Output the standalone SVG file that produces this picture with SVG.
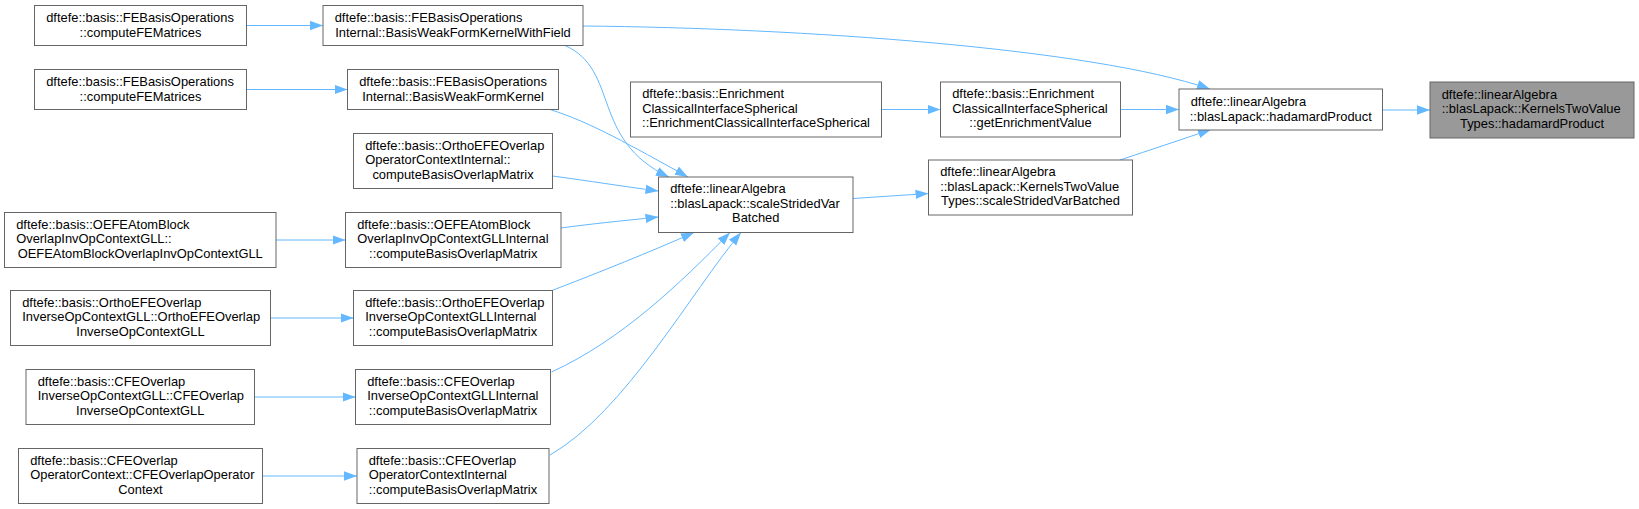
<svg xmlns="http://www.w3.org/2000/svg" width="1639" height="509" viewBox="0 0 1639 509">
<style>
.n rect{fill:#ffffff;stroke:#666666;stroke-width:1}
#nF rect{fill:#999999}
.n text{font-family:"Liberation Sans",Arial,Helvetica,sans-serif;font-size:12.9px;fill:#000000}
.n text.c{text-anchor:middle}
.e path{fill:none;stroke:#63b8ff;stroke-width:1;marker-end:url(#ah)}
</style>
<defs>
<marker id="ah" markerUnits="userSpaceOnUse" markerWidth="14" markerHeight="11" refX="13" refY="5" orient="auto">
<path d="M0,0.3 L13,5 L0,9.7 z" fill="#63b8ff"/>
</marker>
</defs>
<rect width="1639" height="509" fill="#ffffff"/>
<g id="edges" class="e">
<path d="M246.5,25.5 L323,25.5"/>
<path d="M246.5,89.5 L347.5,89.5"/>
<path d="M276,240 L345.5,240"/>
<path d="M270.5,318 L353.5,318"/>
<path d="M254.5,397 L355.5,397"/>
<path d="M262.5,476 L357,476"/>
<path d="M583,26 C800,28 1090,48 1210,89"/>
<path d="M565,45.5 C620,70 590,140 669,177"/>
<path d="M550,109.5 C590,122 630,145 688,177"/>
<path d="M552.5,176 C590,181 620,186 658.5,191"/>
<path d="M561,228 C590,224 620,221 658.5,217"/>
<path d="M552,290.5 C600,272 650,252 694,232.5"/>
<path d="M551.5,372 C621.5,340 680,283.5 730,232.5"/>
<path d="M550,455 C625,412 691,292 741,232.5"/>
<path d="M881.5,109.5 L940.5,109.5"/>
<path d="M1120.5,109.5 L1179,109.5"/>
<path d="M853,198.5 L928.5,193.5"/>
<path d="M1120,160 C1150,150 1180,140 1211,129.5"/>
<path d="M1382.5,110 L1430,110"/>
</g>
<g id="nA1" class="n"><rect x="34.5" y="5.5" width="212" height="40"/><text x="46.2" y="21.9">dftefe::basis::FEBasisOperations</text><text class="c" x="140.5" y="36.5">::computeFEMatrices</text></g>
<g id="nA2" class="n"><rect x="34.5" y="69.5" width="212" height="40"/><text x="46.2" y="85.9">dftefe::basis::FEBasisOperations</text><text class="c" x="140.5" y="100.5">::computeFEMatrices</text></g>
<g id="nA3" class="n"><rect x="4.5" y="212.5" width="271.5" height="55"/><text x="16.2" y="228.5">dftefe::basis::OEFEAtomBlock</text><text x="16.2" y="243.1">OverlapInvOpContextGLL::</text><text class="c" x="140.25" y="257.7">OEFEAtomBlockOverlapInvOpContextGLL</text></g>
<g id="nA4" class="n"><rect x="10.5" y="290.5" width="260" height="55"/><text x="22.2" y="306.5">dftefe::basis::OrthoEFEOverlap</text><text x="22.2" y="321.1">InverseOpContextGLL::OrthoEFEOverlap</text><text class="c" x="140.5" y="335.7">InverseOpContextGLL</text></g>
<g id="nA5" class="n"><rect x="26" y="369.5" width="228.5" height="55"/><text x="37.7" y="385.5">dftefe::basis::CFEOverlap</text><text x="37.7" y="400.1">InverseOpContextGLL::CFEOverlap</text><text class="c" x="140.25" y="414.7">InverseOpContextGLL</text></g>
<g id="nA6" class="n"><rect x="18.5" y="448.5" width="244" height="55"/><text x="30.2" y="464.5">dftefe::basis::CFEOverlap</text><text x="30.2" y="479.1">OperatorContext::CFEOverlapOperator</text><text class="c" x="140.5" y="493.7">Context</text></g>
<g id="nB1" class="n"><rect x="323" y="5.5" width="260" height="40"/><text x="334.7" y="21.9">dftefe::basis::FEBasisOperations</text><text class="c" x="453" y="36.5">Internal::BasisWeakFormKernelWithField</text></g>
<g id="nB2" class="n"><rect x="347.5" y="69.5" width="211" height="40"/><text x="359.2" y="85.9">dftefe::basis::FEBasisOperations</text><text class="c" x="453" y="100.5">Internal::BasisWeakFormKernel</text></g>
<g id="nB3" class="n"><rect x="353.5" y="133.5" width="199" height="55"/><text x="365.2" y="149.5">dftefe::basis::OrthoEFEOverlap</text><text x="365.2" y="164.1">OperatorContextInternal::</text><text class="c" x="453" y="178.7">computeBasisOverlapMatrix</text></g>
<g id="nB4" class="n"><rect x="345.5" y="212.5" width="215.5" height="55"/><text x="357.2" y="228.5">dftefe::basis::OEFEAtomBlock</text><text x="357.2" y="243.1">OverlapInvOpContextGLLInternal</text><text class="c" x="453.25" y="257.7">::computeBasisOverlapMatrix</text></g>
<g id="nB5" class="n"><rect x="353.5" y="290.5" width="199" height="55"/><text x="365.2" y="306.5">dftefe::basis::OrthoEFEOverlap</text><text x="365.2" y="321.1">InverseOpContextGLLInternal</text><text class="c" x="453" y="335.7">::computeBasisOverlapMatrix</text></g>
<g id="nB6" class="n"><rect x="355.5" y="369.5" width="195" height="55"/><text x="367.2" y="385.5">dftefe::basis::CFEOverlap</text><text x="367.2" y="400.1">InverseOpContextGLLInternal</text><text class="c" x="453" y="414.7">::computeBasisOverlapMatrix</text></g>
<g id="nB7" class="n"><rect x="357" y="448.5" width="192" height="55"/><text x="368.7" y="464.5">dftefe::basis::CFEOverlap</text><text x="368.7" y="479.1">OperatorContextInternal</text><text class="c" x="453" y="493.7">::computeBasisOverlapMatrix</text></g>
<g id="nC1" class="n"><rect x="630.5" y="82" width="251" height="55"/><text x="642.2" y="98">dftefe::basis::Enrichment</text><text x="642.2" y="112.6">ClassicalInterfaceSpherical</text><text class="c" x="756" y="127.2">::EnrichmentClassicalInterfaceSpherical</text></g>
<g id="nC2" class="n"><rect x="658.5" y="177" width="194.5" height="55.5"/><text x="670.2" y="193.25">dftefe::linearAlgebra</text><text x="670.2" y="207.85">::blasLapack::scaleStridedVar</text><text class="c" x="755.75" y="222.45">Batched</text></g>
<g id="nD1" class="n"><rect x="940.5" y="82" width="180" height="55"/><text x="952.2" y="98">dftefe::basis::Enrichment</text><text x="952.2" y="112.6">ClassicalInterfaceSpherical</text><text class="c" x="1030.5" y="127.2">::getEnrichmentValue</text></g>
<g id="nD2" class="n"><rect x="928.5" y="160" width="204" height="55"/><text x="940.2" y="176">dftefe::linearAlgebra</text><text x="940.2" y="190.6">::blasLapack::KernelsTwoValue</text><text class="c" x="1030.5" y="205.2">Types::scaleStridedVarBatched</text></g>
<g id="nE" class="n"><rect x="1179" y="89" width="203.5" height="41"/><text x="1190.7" y="105.9">dftefe::linearAlgebra</text><text class="c" x="1280.75" y="120.5">::blasLapack::hadamardProduct</text></g>
<g id="nF" class="n"><rect x="1430" y="82" width="204" height="56"/><text x="1441.7" y="98.5">dftefe::linearAlgebra</text><text x="1441.7" y="113.1">::blasLapack::KernelsTwoValue</text><text class="c" x="1532" y="127.7">Types::hadamardProduct</text></g>
</svg>
